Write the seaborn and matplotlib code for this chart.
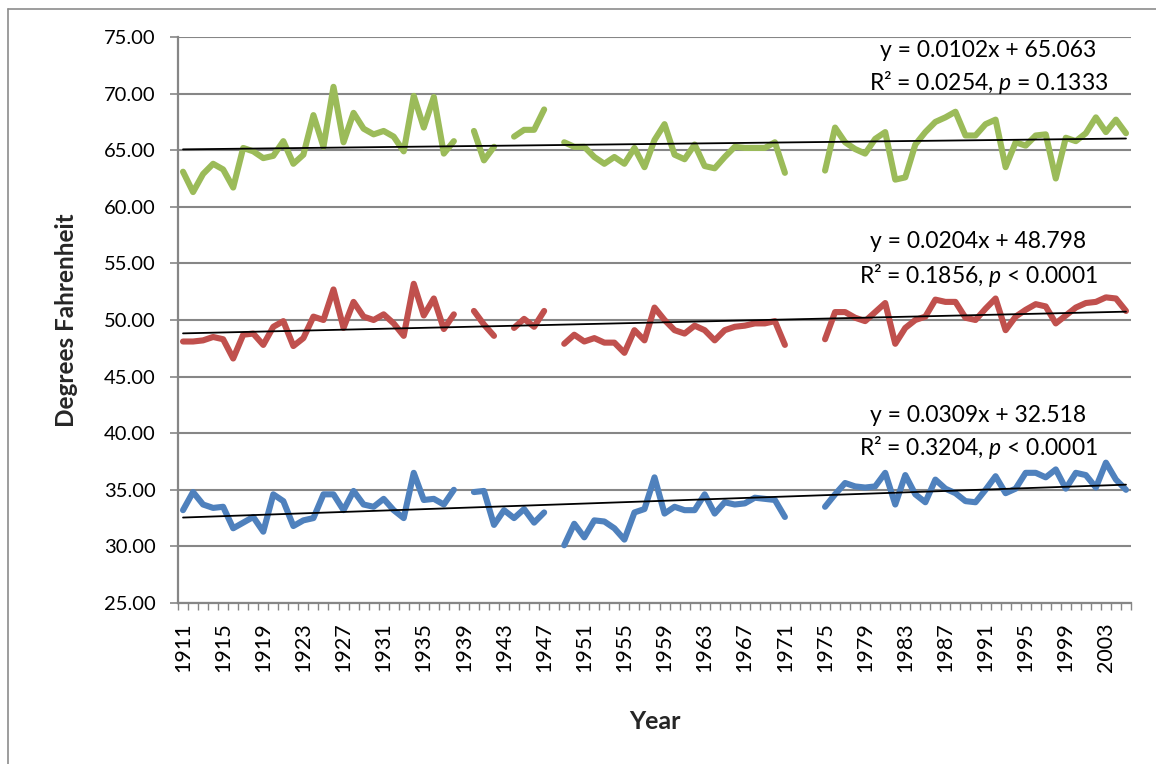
import numpy as np
import pandas as pd
import matplotlib
matplotlib.use("Agg")
import matplotlib.pyplot as plt
from matplotlib.lines import Line2D
from matplotlib.ticker import FormatStrFormatter, FixedLocator
import seaborn as sns

nan = np.nan
years = list(range(1911, 2006))

high = [63.1, 61.3, 62.9, 63.8, 63.3, 61.7, 65.2, 64.9, 64.3, 64.5,
        65.8, 63.8, 64.6, 68.1, 65.3, 70.6, 65.7, 68.3, 66.9, 66.4,
        66.7, 66.2, 64.9, 69.8, 67.0, 69.7, 64.7, 65.8, nan, 66.7,
        64.1, 65.3, nan, 66.2, 66.8, 66.8, 68.6, nan, 65.7, 65.3,
        65.3, 64.4, 63.8, 64.4, 63.8, 65.2, 63.5, 65.9, 67.3, 64.6,
        64.2, 65.5, 63.6, 63.4, 64.4, 65.3, 65.2, 65.2, 65.2, 65.7,
        63.0, nan, nan, nan, 63.2, 67.0, 65.7, 65.1, 64.7, 66.0,
        66.6, 62.4, 62.6, 65.5, 66.6, 67.5, 67.9, 68.4, 66.3, 66.3,
        67.3, 67.7, 63.5, 65.7, 65.4, 66.3, 66.4, 62.5, 66.1, 65.8,
        66.5, 67.9, 66.6, 67.7, 66.5]

mean = [48.1, 48.1, 48.2, 48.5, 48.3, 46.6, 48.7, 48.8, 47.8, 49.4,
        49.9, 47.7, 48.4, 50.3, 50.0, 52.7, 49.3, 51.6, 50.3, 50.0,
        50.5, 49.7, 48.6, 53.2, 50.4, 51.9, 49.2, 50.5, nan, 50.8,
        49.6, 48.6, nan, 49.3, 50.1, 49.4, 50.8, nan, 47.9, 48.7,
        48.1, 48.4, 48.0, 48.0, 47.1, 49.1, 48.2, 51.1, 50.0, 49.1,
        48.8, 49.5, 49.1, 48.2, 49.1, 49.4, 49.5, 49.7, 49.7, 49.9,
        47.8, nan, nan, nan, 48.3, 50.7, 50.7, 50.2, 49.9, 50.7,
        51.5, 47.9, 49.3, 50.0, 50.3, 51.8, 51.6, 51.6, 50.2, 50.0,
        51.0, 51.9, 49.1, 50.3, 50.9, 51.4, 51.2, 49.7, 50.4, 51.1,
        51.5, 51.6, 52.0, 51.9, 50.8]

low = [33.2, 34.8, 33.7, 33.4, 33.5, 31.6, 32.1, 32.6, 31.3, 34.6,
       34.0, 31.8, 32.3, 32.5, 34.6, 34.6, 33.2, 34.9, 33.7, 33.5,
       34.2, 33.2, 32.5, 36.5, 34.1, 34.2, 33.7, 35.0, nan, 34.8,
       34.9, 31.9, 33.2, 32.5, 33.3, 32.1, 33.0, nan, 30.1, 32.0,
       30.8, 32.3, 32.2, 31.6, 30.6, 33.0, 33.3, 36.1, 32.9, 33.5,
       33.2, 33.2, 34.6, 32.9, 33.9, 33.7, 33.8, 34.3, 34.2, 34.1,
       32.6, nan, nan, nan, 33.5, 34.6, 35.6, 35.3, 35.2, 35.3,
       36.5, 33.7, 36.3, 34.6, 33.9, 35.9, 35.1, 34.7, 34.0, 33.9,
       35.0, 36.2, 34.7, 35.1, 36.5, 36.5, 36.1, 36.8, 35.1, 36.5,
       36.3, 35.2, 37.4, 35.9, 35.0]

series_names = ["High", "Mean", "Low"]
slopes = [0.0102, 0.0204, 0.0309]
intercepts = [65.063, 48.798, 32.518]
eq_labels = ["y = 0.0102x + 65.063", "y = 0.0204x + 48.798", "y = 0.0309x + 32.518"]
r2_labels = [r"R² = 0.0254, $\mathit{p}$ = 0.1333",
             r"R² = 0.1856, $\mathit{p}$ < 0.0001",
             r"R² = 0.3204, $\mathit{p}$ < 0.0001"]
colors = {"High": "#9BBB59", "Mean": "#C0504D", "Low": "#4F81BD"}

sns.set_theme(style="white")
plt.rcParams["font.family"] = ["Lato", "DejaVu Sans"]
plt.rcParams["mathtext.fontset"] = "custom"
plt.rcParams["mathtext.it"] = "Lato:italic"
plt.rcParams["mathtext.rm"] = "Lato"

# long-form data with segment ids so gaps stay gaps
rows = []
for name, vals in zip(series_names, [high, mean, low]):
    seg = 0
    prev_nan = True
    for yr, v in zip(years, vals):
        if np.isnan(v):
            prev_nan = True
            continue
        if prev_nan:
            seg += 1
            prev_nan = False
        rows.append({"Year": yr, "Temp": v, "Series": name, "Seg": f"{name}{seg}"})
df = pd.DataFrame(rows)

W, H = 1156, 764
fig = plt.figure(figsize=(W / 100, H / 100), dpi=100)
ax = fig.add_axes([178 / W, 1 - 603 / H, (1131 - 178) / W, (603 - 37) / H])

grid_c = "#868686"
for v in range(25, 80, 5):
    ax.axhline(v, color=grid_c, lw=1.5, zorder=0)

sns.lineplot(data=df, x="Year", y="Temp", hue="Series", units="Seg",
             estimator=None, palette=colors, lw=4.4, legend=False,
             solid_capstyle="round", solid_joinstyle="round", ax=ax, zorder=2)

idx = np.arange(1, len(years) + 1)
for s, b in zip(slopes, intercepts):
    tdf = pd.DataFrame({"Year": years, "Trend": s * idx + b})
    sns.lineplot(data=tdf, x="Year", y="Trend", color="black", lw=1.3,
                 ax=ax, zorder=3)

ax.set_xlim(years[0] - 0.5, years[-1] + 0.5)
ax.set_ylim(25, 75)
ax.set_yticks(np.arange(25, 76, 5))
ax.yaxis.set_major_formatter(FormatStrFormatter("%.2f"))
ax.set_xticks(years[::4])
ax.set_xticklabels([str(y) for y in years[::4]], rotation=90)
ax.xaxis.set_minor_locator(FixedLocator(np.arange(years[0] - 0.5, years[-1] + 1.0, 1.0)))

ax.tick_params(axis="x", which="major", length=0, pad=14, labelsize=15.5, colors="black")
ax.tick_params(axis="x", which="minor", length=5, width=1, color=grid_c, direction="out", bottom=True)
ax.tick_params(axis="y", which="major", length=6, width=1.2, color=grid_c, direction="out",
               left=True, pad=10, labelsize=14.5, labelcolor="black")

for side in ["top", "right"]:
    ax.spines[side].set_visible(False)
for side in ["left", "bottom"]:
    ax.spines[side].set_color(grid_c)
    ax.spines[side].set_linewidth(1.6)

ax.set_xlabel("Year", fontsize=18, fontweight="bold", labelpad=27)
ax.set_ylabel("Degrees Fahrenheit", fontsize=17.5, fontweight="bold", labelpad=19)

# trend annotations
ann = [(1991.3, 73.8, 71.0), (1990.3, 56.9, 53.9), (1990.3, 41.6, 38.7)]
for (xc, y1, y2), e, r in zip(ann, eq_labels, r2_labels):
    ax.text(xc, y1, e, ha="center", va="center", fontsize=16.5, color="black", zorder=4)
    ax.text(xc, y2, r, ha="center", va="center", fontsize=16.5, color="black", zorder=4)

# chart-area border (left and top edges visible)
fig.add_artist(Line2D([8 / W, 8 / W], [0, 1 - 9 / H], transform=fig.transFigure, color="#8c8c8c", lw=1.2))
fig.add_artist(Line2D([8 / W, 1], [1 - 9 / H, 1 - 9 / H], transform=fig.transFigure, color="#8c8c8c", lw=1.2))

fig.savefig("out.png", dpi=100, facecolor="white")
